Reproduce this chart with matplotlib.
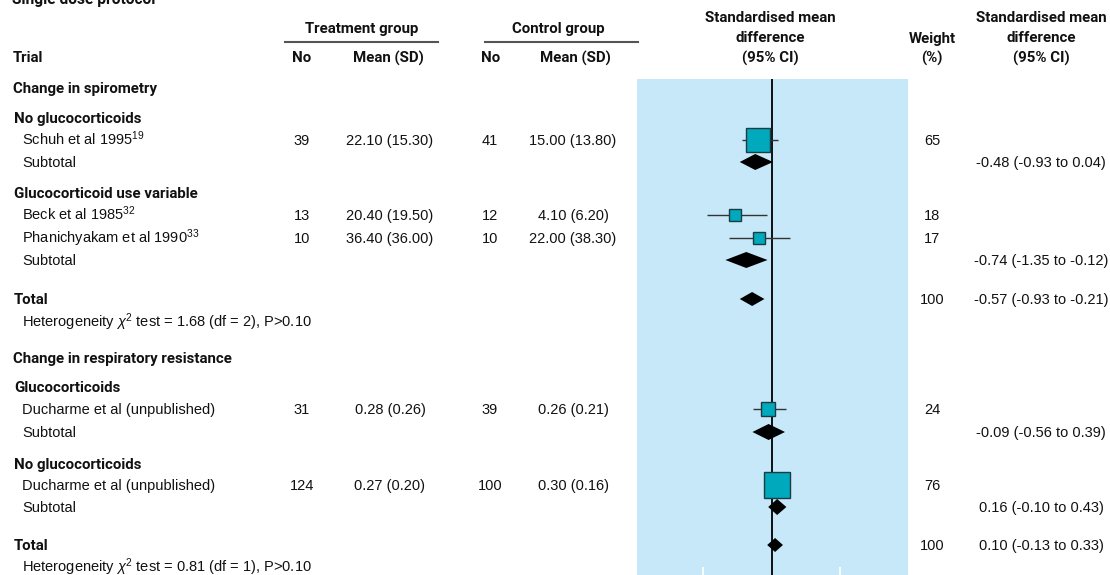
import matplotlib
matplotlib.use("Agg")
import matplotlib.pyplot as plt
import numpy as np

plt.rcParams['mathtext.fontset'] = 'custom'
plt.rcParams['mathtext.rm'] = 'Liberation Sans'
plt.rcParams['mathtext.it'] = 'Liberation Sans:italic'

# ---- data ----
outcomes = ["Change in spirometry", "Change in respiratory resistance"]
subgroups = ["No glucocorticoids", "Glucocorticoid use variable",
             "Glucocorticoids", "No glucocorticoids"]
studies = ["Schuh et al 1995$^{19}$", "Beck et al 1985$^{32}$",
           "Phanichyakam et al 1990$^{33}$",
           "Ducharme et al (unpublished)", "Ducharme et al (unpublished)"]
n_treat = [39, 13, 10, 31, 124]
mean_treat = [22.10, 20.40, 36.40, 0.28, 0.27]
sd_treat = [15.30, 19.50, 36.00, 0.26, 0.20]
n_ctrl = [41, 12, 10, 39, 100]
mean_ctrl = [15.00, 4.10, 22.00, 0.26, 0.30]
sd_ctrl = [13.80, 6.20, 38.30, 0.21, 0.16]
smd = [-0.40, -1.07, -0.36, -0.10, 0.16]
smd_lo = [-0.87, -1.89, -1.25, -0.55, -0.10]
smd_hi = [0.18, -0.14, 0.53, 0.43, 0.43]
weight = [65, 18, 17, 24, 76]

sub_smd = [-0.48, -0.74, -0.09, 0.16]
sub_lo = [-0.93, -1.35, -0.56, -0.10]
sub_hi = [0.04, -0.12, 0.39, 0.43]

tot_smd = [-0.57, 0.10]
tot_lo = [-0.93, -0.13]
tot_hi = [-0.21, 0.33]
tot_weight = [100, 100]
het_chi2 = [1.68, 0.81]
het_df = [2, 1]

# ---- layout (pixel rows from top of figure) ----
W, H = 1110, 575
outcome_y = [88, 357]
subgroup_y = [118, 193, 387, 463]
study_y = [140, 215, 238, 409, 485]
subtotal_y = [162, 260, 432, 507]
total_y = [299, 545]
het_y = [322, 567]

BLUE = '#c6e8f8'
TEAL = '#00a9bb'
NORMAL = dict(fontsize=10.5, family=['Liberation Sans', 'DejaVu Sans'], color='#111111')
BOLD = dict(fontsize=10.8, family=['Roboto', 'Liberation Sans'],
            weight='bold', color='#111111')

fig = plt.figure(figsize=(W / 100, H / 100), dpi=100)
bg = fig.add_axes([0, 0, 1, 1])
bg.set_xlim(0, W)
bg.set_ylim(H, 0)
bg.axis('off')


def txt(x, y, s, bold=False, ha='left'):
    style = BOLD if bold else NORMAL
    off = 5.5 if bold else 5.2
    bg.text(x, y + off, s, ha=ha, va='baseline', **style)


# title (cut at top edge in the original)
bg.text(12, 4, "Single dose protocol", ha='left', va='baseline',
        fontsize=11.2, family=BOLD['family'], weight='bold', color='#111111')

# column headers
txt(362, 28, "Treatment group", True, 'center')
txt(558, 28, "Control group", True, 'center')
bg.plot([285, 438], [42, 42], color='#555555', lw=1.5)
bg.plot([485, 638], [42, 42], color='#555555', lw=1.5)
txt(13, 57, "Trial", True)
txt(302, 57, "No", True, 'center')
txt(388, 57, "Mean (SD)", True, 'center')
txt(491, 57, "No", True, 'center')
txt(575, 57, "Mean (SD)", True, 'center')
for cx in (770, 1041):
    txt(cx, 16, "Standardised mean", True, 'center')
    txt(cx, 37, "difference", True, 'center')
    txt(cx, 57, "(95% CI)", True, 'center')
txt(932, 37, "Weight", True, 'center')
txt(932, 57, "(%)", True, 'center')

# left-hand table
for name, y in zip(outcomes, outcome_y):
    txt(13, y, name, True)
for name, y in zip(subgroups, subgroup_y):
    txt(14, y, name, True)
for i, y in enumerate(study_y):
    txt(22, y, studies[i])
    txt(302, y, str(n_treat[i]), ha='center')
    txt(390, y, f"{mean_treat[i]:.2f} ({sd_treat[i]:.2f})", ha='center')
    txt(490, y, str(n_ctrl[i]), ha='center')
    txt(573, y, f"{mean_ctrl[i]:.2f} ({sd_ctrl[i]:.2f})", ha='center')
    txt(932, y, str(weight[i]), ha='center')
for i, y in enumerate(subtotal_y):
    txt(22, y, "Subtotal")
    txt(1041, y, f"{sub_smd[i]:.2f} ({sub_lo[i]:.2f} to {sub_hi[i]:.2f})", ha='center')
for i, y in enumerate(total_y):
    txt(14, y, "Total", True)
    txt(932, y, str(tot_weight[i]), ha='center')
    txt(1041, y, f"{tot_smd[i]:.2f} ({tot_lo[i]:.2f} to {tot_hi[i]:.2f})", ha='center')
for i, y in enumerate(het_y):
    txt(22, y, f"Heterogeneity $\\chi^2$ test = {het_chi2[i]:.2f} (df = {het_df[i]}), P>0.10")

# forest panel
ax = fig.add_axes([637 / W, 0, 271 / W, (H - 79) / H])
ax.set_facecolor(BLUE)
ax.set_xlim(-3.93, 3.98)
ax.set_ylim(H, 79)
for s in ax.spines.values():
    s.set_visible(False)
ax.set_xticks([-2, 2])
ax.set_xticklabels([])
ax.set_yticks([])
ax.tick_params(axis='x', direction='in', length=6, width=1.3, color='white')
ax.axvline(0, color='black', lw=1.3, zorder=2)

ax.hlines(study_y, smd_lo, smd_hi, color='#333333', lw=1, zorder=3)
for x, y, w in zip(smd, study_y, weight):
    ax.plot([x], [y], marker='s', ms=3.0 * np.sqrt(w) * 0.72, mfc=TEAL,
            mec='#1e3b44', mew=1, zorder=4)


def diamond(est, lo, hi, y, half=8):
    ax.fill([lo, est, hi, est], [y, y - half, y, y + half],
            color='black', lw=0, zorder=4)


for e, l, h, y in zip(sub_smd, sub_lo, sub_hi, subtotal_y):
    diamond(e, l, h, y)
for e, l, h, y in zip(tot_smd, tot_lo, tot_hi, total_y):
    diamond(e, l, h, y, half=7)

fig.savefig("out.png", dpi=100)
